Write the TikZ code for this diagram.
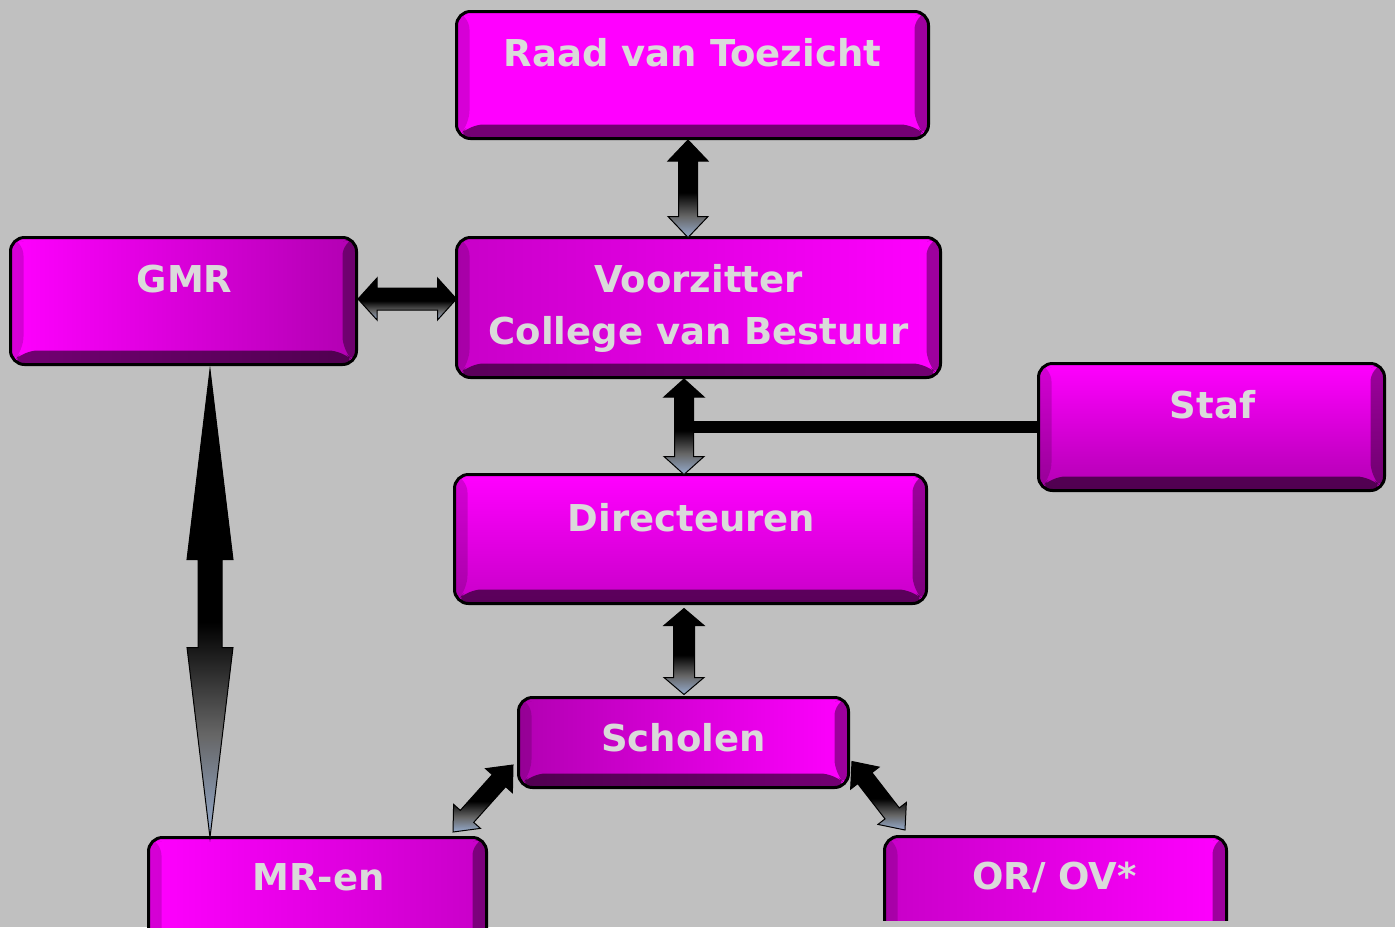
\documentclass[tikz,border=0pt]{standalone}
\usepackage{fontspec}
\setmainfont{DejaVu Sans}
\usetikzlibrary{calc}
\definecolor{bg}{RGB}{192,192,192}
\definecolor{mag}{RGB}{255,0,255}
\definecolor{magd}{RGB}{178,0,178}
\definecolor{magm}{RGB}{200,0,200}
\definecolor{txt}{RGB}{218,218,218}
\definecolor{alow}{RGB}{150,172,206}
\pgfdeclareverticalshading{arrowshade}{100bp}{color(0bp)=(alow); color(25bp)=(alow); color(36bp)=(black!60); color(48bp)=(black); color(100bp)=(black)}
\tikzset{
  x=1pt, y=-1pt,
  box/.style={draw=black, line width=3pt, rounded corners=14pt, anchor=north west,
    inner sep=0pt, outer sep=0pt,
    path picture={
      \fill[black,opacity=.16] (path picture bounding box.north west) -- ++(13,4)
        -- ($(path picture bounding box.south west)+(13,-14)$) -- (path picture bounding box.south west) -- cycle;
      \fill[black,opacity=.38] (path picture bounding box.north east) -- ++(-14,4)
        -- ($(path picture bounding box.south east)+(-14,-14)$) -- (path picture bounding box.south east) -- cycle;
      \fill[black,opacity=.55] (path picture bounding box.south west) -- ++(13,-14)
        -- ($(path picture bounding box.south east)+(-14,-14)$) -- (path picture bounding box.south east) -- cycle;
    }},
  lbl/.style={text=txt, font=\bfseries\fontsize{37}{52}\selectfont, anchor=base, inner sep=0pt},
  fat/.style={draw=black, line width=1pt, shading=arrowshade, line join=miter},
  link/.style={draw=black, line width=12pt}
}
% #1 options, #2 A, #3 B, #4 shaft half width, #5 head half width, #6 head length
\newcommand\fatarrow[6][]{%
  \shade[fat,#1] (#2)
    -- ($(#2)!#6!(#3)!#5!90:(#3)$)
    -- ($(#2)!#6!(#3)!#4!90:(#3)$)
    -- ($(#3)!#6!(#2)!#4!-90:(#2)$)
    -- ($(#3)!#6!(#2)!#5!-90:(#2)$)
    -- (#3)
    -- ($(#3)!#6!(#2)!#5!90:(#2)$)
    -- ($(#3)!#6!(#2)!#4!90:(#2)$)
    -- ($(#2)!#6!(#3)!#4!-90:(#3)$)
    -- ($(#2)!#6!(#3)!#5!-90:(#3)$)
    -- cycle;}
\begin{document}
\begin{tikzpicture}
\useasboundingbox (0,0) rectangle (1395,927);
\fill[bg] (0,0) rectangle (1395,927);
\begin{scope}
\clip (0,0) rectangle (1395,927);
% boxes
\node[box, fill=mag, minimum width=472pt, minimum height=127pt] (raad) at (456.5,11.5) {};
\node[box, left color=mag, right color=magd, minimum width=346pt, minimum height=127pt] (gmr) at (10.5,237.5) {};
\node[box, left color=magm, right color=mag, minimum width=484pt, minimum height=140pt] (vz) at (456.5,237.5) {};
\node[box, top color=mag, bottom color=magd, minimum width=346pt, minimum height=127pt] (staf) at (1038.5,363.5) {};
\node[box, top color=mag, middle color=mag, bottom color=magm, minimum width=472pt, minimum height=129pt] (dir) at (454.5,474.5) {};
\node[box, left color=magd, right color=mag, minimum width=330pt, minimum height=90pt] (sch) at (518.5,697.5) {};
\node[box, left color=mag, right color=magm, minimum width=338pt, minimum height=127pt] (mr) at (148.5,837.5) {};
\begin{scope}
\clip (0,0) rectangle (1395,920);
\node[box, left color=magm, right color=mag, minimum width=342pt, minimum height=127pt] (or) at (884.5,836.5) {};
\end{scope}
% labels
\node[lbl] (raadT) at ($(raad.north)+(0,55)$) {Raad van Toezicht};
\node[lbl] (gmrT) at ($(gmr.north)+(1,55)$) {GMR};
\node[lbl] (vzT1) at ($(vz.north)+(0,55)$) {Voorzitter};
\node[lbl] (vzT2) at ($(vz.north)+(0,107)$) {College van Bestuur};
\node[lbl] (stafT) at ($(staf.north)+(1,55)$) {Staf};
\node[lbl] (dirT) at ($(dir.north)+(1,57)$) {Directeuren};
\node[lbl] (schT) at ($(sch.north)+(0,54)$) {Scholen};
\node[lbl] (mrT) at ($(mr.north)+(1,53)$) {MR-en};
\node[lbl] (orT) at ($(or.north)+(-1,53)$) {OR/ OV*};
% connector end points
\coordinate (a1) at ($(raad.south)+(-4.5,1.5)$);
\coordinate (a2) at (a1 |- vz.north);
\coordinate (b1) at ($(gmr.east)+(1.5,-2)$);
\coordinate (b2) at (b1 -| vz.west);
\coordinate (c1) at ($(vz.south)+(-14.5,1.5)$);
\coordinate (c2) at (c1 |- dir.north);
\coordinate (s0) at (c1 |- staf.west);
\coordinate (d1) at ($(dir.south)+(-6.5,5)$);
\coordinate (d2) at ($(d1 |- sch.north)+(0,-3)$);
\coordinate (e1) at ($(gmr.south)+(26.5,5)$);
\coordinate (e2) at (e1 |- mr.north);
\coordinate (f1) at ($(sch.west)+(-5.5,22.5)$);
\coordinate (f2) at ($(mr.north east)+(-33.5,-5.5)$);
\coordinate (g1) at ($(sch.east)+(3.5,19)$);
\coordinate (g2) at ($(or.north west)+(20.5,-6.5)$);
% connectors
\draw[link] (s0) -- (staf.west);
\fatarrow{a1}{a2}{9.5pt}{20pt}{21pt}
\fatarrow{b1}{b2}{11pt}{21pt}{19pt}
\fatarrow{c1}{c2}{9.5pt}{20pt}{18pt}
\fatarrow{d1}{d2}{10.5pt}{20pt}{17pt}
\fatarrow{e1}{e2}{12pt}{23pt}{190pt}
\fatarrow{f1}{f2}{9pt}{18pt}{21pt}
\fatarrow{g1}{g2}{9pt}{18pt}{21pt}
\end{scope}
\end{tikzpicture}
\end{document}
